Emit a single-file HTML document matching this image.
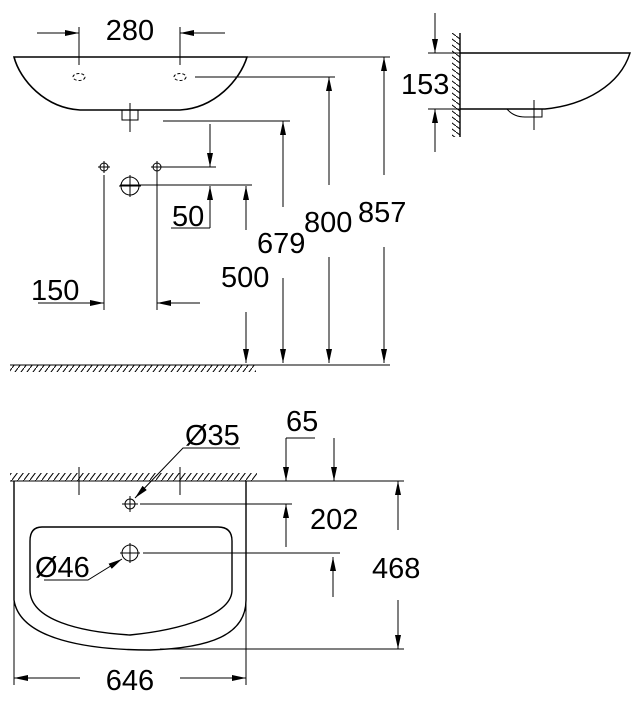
<!DOCTYPE html>
<html><head><meta charset="utf-8"><style>
html,body{margin:0;padding:0;background:#fff;}
svg{display:block}
text{font-family:"Liberation Sans",sans-serif;font-size:29px;fill:#000}
</style></head><body>
<svg width="641" height="701" viewBox="0 0 641 701" xmlns="http://www.w3.org/2000/svg">
<defs>
<marker id="a" markerWidth="14" markerHeight="6" refX="14" refY="3" orient="auto" markerUnits="userSpaceOnUse"><path d="M0,0 L14,3 L0,6 Z" fill="#000"/></marker>
<pattern id="h" width="6" height="8" patternUnits="userSpaceOnUse"><path d="M0,8 L6,0" stroke="#000" stroke-width="1"/></pattern>
<pattern id="hv" width="8" height="6" patternUnits="userSpaceOnUse"><path d="M0,0 L8,6" stroke="#000" stroke-width="1"/></pattern>
</defs>
<g fill="none" stroke="#000" stroke-width="1">
<path d="M14,57 L247,57 C240,80 215,108 180,110 L80,110 C45,108 20,80 14,57 Z" stroke-width="1.6"/>
<rect x="122" y="110" width="16" height="10"/>
<line x1="130" y1="103" x2="130" y2="132"/>
<ellipse cx="79" cy="77" rx="6" ry="3.5" stroke-dasharray="3,2"/>
<ellipse cx="180" cy="77" rx="6" ry="3.5" stroke-dasharray="3,2"/>
<line x1="79" y1="27" x2="79" y2="65"/><line x1="180" y1="27" x2="180" y2="65"/>
<line x1="37" y1="33" x2="79" y2="33" marker-end="url(#a)"/>
<line x1="225" y1="33" x2="180" y2="33" marker-end="url(#a)"/>
<line x1="247" y1="57" x2="390" y2="57"/>
<line x1="195" y1="77" x2="335" y2="77"/>
<line x1="163" y1="121" x2="290" y2="121"/>
<circle cx="104" cy="167" r="4"/><path d="M98,167h12M104,161v12"/>
<circle cx="157" cy="167" r="4"/><path d="M151,167h12M157,161v12"/>
<circle cx="130" cy="186" r="9"/><path d="M119,186h22M130,175v22"/>
<line x1="162" y1="167" x2="216" y2="167"/>
<line x1="120" y1="185" x2="252" y2="185"/>
<line x1="210" y1="124" x2="210" y2="167" marker-end="url(#a)"/>
<line x1="210" y1="228" x2="210" y2="186" marker-end="url(#a)"/>
<line x1="171" y1="228" x2="210" y2="228"/>
<line x1="104" y1="175" x2="104" y2="310"/><line x1="157" y1="167" x2="157" y2="310"/>
<line x1="38" y1="303" x2="104" y2="303" marker-end="url(#a)"/>
<line x1="200" y1="303" x2="157" y2="303" marker-end="url(#a)"/>
<line x1="246" y1="230" x2="246" y2="186" marker-end="url(#a)"/>
<line x1="246" y1="312" x2="246" y2="363" marker-end="url(#a)"/>
<line x1="283" y1="207" x2="283" y2="121" marker-end="url(#a)"/>
<line x1="283" y1="278" x2="283" y2="363" marker-end="url(#a)"/>
<line x1="329" y1="185" x2="329" y2="77" marker-end="url(#a)"/>
<line x1="329" y1="257" x2="329" y2="363" marker-end="url(#a)"/>
<line x1="384" y1="175" x2="384" y2="57" marker-end="url(#a)"/>
<line x1="384" y1="247" x2="384" y2="363" marker-end="url(#a)"/>
<line x1="10" y1="365" x2="390" y2="365"/>
<rect x="10" y="365" width="246" height="7" fill="url(#h)" stroke="none"/>
<rect x="452" y="33" width="8" height="104" fill="url(#hv)" stroke="none"/>
<line x1="460" y1="33" x2="460" y2="137" stroke-width="1.4"/>
<path d="M460,53 L630,53 C620,85 585,105 545,109 L460,109" stroke-width="1.4"/>
<path d="M507,109 C512,115 518,117 525,117 L542,117 L542,109"/>
<line x1="534" y1="100" x2="534" y2="130"/>
<line x1="428" y1="53" x2="460" y2="53"/><line x1="428" y1="109" x2="460" y2="109"/>
<line x1="435" y1="13" x2="435" y2="53" marker-end="url(#a)"/>
<line x1="435" y1="152" x2="435" y2="109" marker-end="url(#a)"/>
<rect x="10" y="473" width="247" height="8" fill="url(#h)" stroke="none"/>
<line x1="10" y1="481" x2="404" y2="481"/>
<path d="M14,481 L14,600 C20,640 90,650 150,650 C210,648 246,635 246,600 L246,481" stroke-width="1.4"/>
<path d="M42,527 L218,527 Q232,527 232,541 L232,590 C232,615 180,630 130,635 C80,632 30,620 30,590 L30,541 Q30,527 42,527 Z" stroke-width="1.4"/>
<circle cx="130" cy="504" r="5"/><path d="M122,504h16M130,496v16"/>
<circle cx="130" cy="553" r="8"/><path d="M120,553h20M130,543v20"/>
<line x1="79" y1="467" x2="79" y2="495"/><line x1="180" y1="467" x2="180" y2="495"/>
<path d="M240,448 L183,448 L135,498" marker-end="url(#a)"/>
<path d="M44,580 L88,580 L122,559" marker-end="url(#a)"/>
<line x1="140" y1="504" x2="292" y2="504"/>
<line x1="143" y1="553" x2="340" y2="553"/>
<line x1="160" y1="649" x2="404" y2="649"/>
<line x1="315" y1="438" x2="286" y2="438"/>
<line x1="286" y1="438" x2="286" y2="481" marker-end="url(#a)"/>
<line x1="334" y1="438" x2="334" y2="481" marker-end="url(#a)"/>
<line x1="286" y1="547" x2="286" y2="504" marker-end="url(#a)"/>
<line x1="333" y1="597" x2="333" y2="557" marker-end="url(#a)"/>
<line x1="398" y1="530" x2="398" y2="481" marker-end="url(#a)"/>
<line x1="398" y1="600" x2="398" y2="649" marker-end="url(#a)"/>
<line x1="14" y1="600" x2="14" y2="685"/><line x1="246" y1="600" x2="246" y2="685"/>
<line x1="80" y1="678" x2="14" y2="678" marker-end="url(#a)"/>
<line x1="180" y1="678" x2="246" y2="678" marker-end="url(#a)"/>
</g>
<text x="130" y="40" text-anchor="middle">280</text>
<text x="172" y="226">50</text>
<text x="31" y="300">150</text>
<text x="221" y="287">500</text>
<text x="257" y="253">679</text>
<text x="304" y="232">800</text>
<text x="358" y="222">857</text>
<text x="401" y="94">153</text>
<text x="286" y="431">65</text>
<text x="185" y="445">Ø35</text>
<text x="35" y="577">Ø46</text>
<text x="310" y="529">202</text>
<text x="372" y="578">468</text>
<text x="130" y="690" text-anchor="middle">646</text>
</svg>
</body></html>
